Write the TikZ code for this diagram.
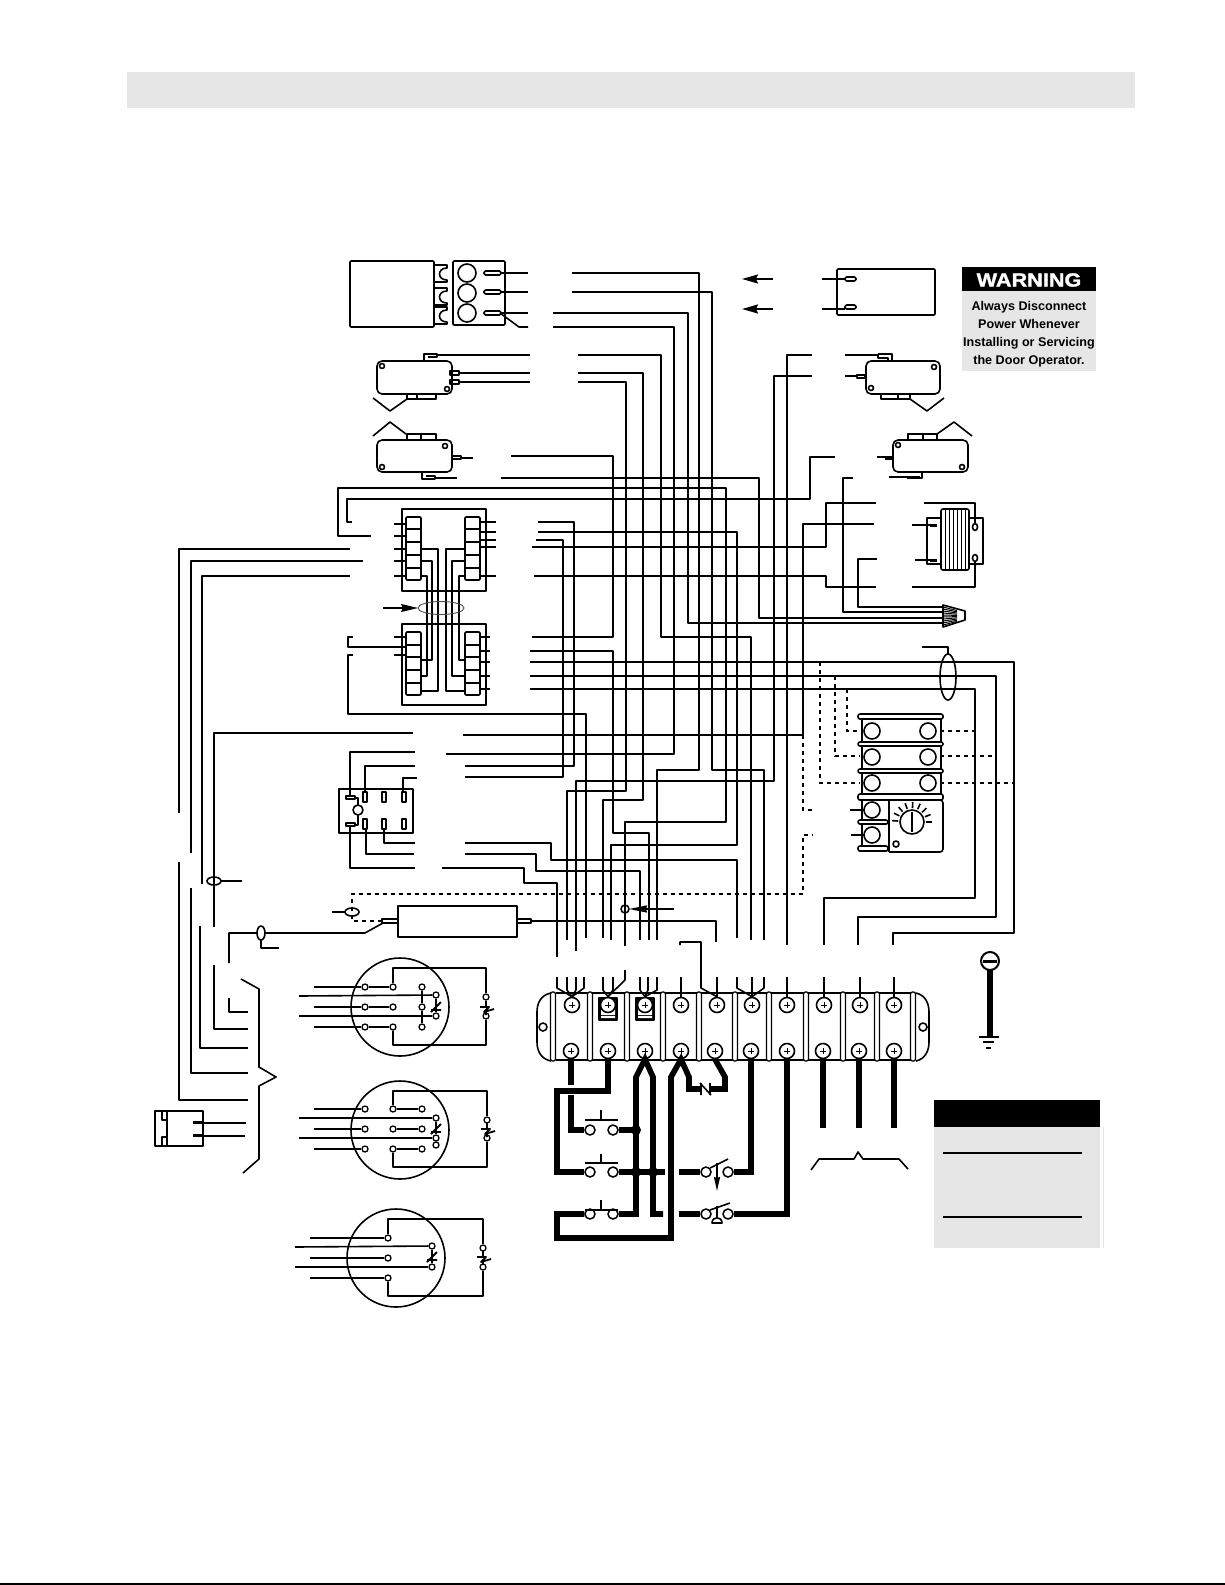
\documentclass[tikz,border=0pt]{standalone}
\usepackage{fontspec}
\setmainfont{Liberation Sans}
\newfontfamily\warnfont[FakeBold=1.6]{Liberation Sans Bold}
\usepackage{tikz}
\usetikzlibrary{arrows.meta}
\definecolor{panelgray}{HTML}{E6E6E6}
\tikzset{
	wire/.style={line width=1.6pt,line join=round},
	thickwire/.style={line width=5.6pt,line join=miter},
	dashwire/.style={line width=1.5pt,dash pattern=on 4pt off 4pt},
	term/.style={circle,draw,fill=white,line width=1.3pt,inner sep=0pt,minimum size=6pt},
	push/.style={circle,draw,fill=white,line width=1.5pt,inner sep=0pt,minimum size=10pt},
	dotjoin/.style={circle,fill=black,inner sep=0pt,minimum size=10pt},
	screw/.style={circle,draw,fill=white,line width=1.6pt,inner sep=0pt,minimum size=15pt,
		path picture={\draw[line width=.8pt] (path picture bounding box.center) ++(-3,0) -- ++(6,0) ++(-3,-3) -- ++(0,6);}},
	tiparrow/.style={-{Stealth[length=16pt,width=9pt,inset=2pt]}}
}
\newcommand{\zigheater}[2]{\draw[wire,line width=1.8pt,shift={(#1,#2)}] (0,-6) -- (0,-1) (-6,0) -- (3,0) -- (-2,5) -- (8,2) (0,4) -- (0,8);}
\newcommand{\zigcontact}[2]{\draw[wire,line width=1.8pt,shift={(#1,#2)}] (-5,4) -- (5,4) (-5,6) -- (5,-4);}
\begin{document}
\begin{tikzpicture}[x=1pt,y=-1pt]
	\useasboundingbox (0,0) rectangle (1225,1585);
	\fill[panelgray] (127,72) rectangle (1135,108);
	\draw[line width=1.5pt] (0,1584) -- (1225,1584);

	\draw[wire,rounded corners=1pt] (350,261) rectangle (434,327);
	\foreach \cy in {265,288,307}
		\draw[wire] (434,\cy) -- (447,\cy) -- (447,\cy+3) .. controls (437,\cy+3) and (437,\cy+15) .. (447,\cy+15) -- (447,\cy+17) -- (434,\cy+17);
	\draw[wire,rounded corners=1pt] (453,261) rectangle (505,325);
	\foreach \cy in {273,293,313}
		\draw[wire] (467,\cy) circle (9);
	\foreach \cy in {273,292,313}
		\draw[wire,rounded corners=1.5pt] (484,\cy-2) rectangle (501,\cy+2);
	\draw[wire] (501,273) -- (528,273);
	\draw[wire] (501,292) -- (528,292);
	\draw[wire] (501,313) -- (528,313);
	\draw[wire] (500,313) -- (519,327) -- (528,327);

	\draw[wire,rounded corners=5pt] (377,361) rectangle (452,394);
	\draw[wire] (382,366) circle (2.5) (447,389) circle (2.5);
	\draw[wire] (424,361) -- (424,354) -- (437,354) -- (437,357) -- (428,357);
	\draw[wire] (437,355) -- (530,355);
	\draw[wire] (450,371) rectangle (459,375) (450,380) rectangle (459,384);
	\draw[wire] (459,373) -- (530,373);
	\draw[wire] (459,382) -- (530,382);
	\draw[wire] (407,394) -- (407,399) -- (436,399) -- (436,394) (417,394) -- (417,399);
	\draw[wire] (373,398) -- (390,411) -- (407,399);

	\draw[wire,rounded corners=5pt] (377,440) rectangle (452,472);
	\draw[wire] (445,446) circle (2.5) (382,467) circle (2.5);
	\draw[wire] (407,440) -- (407,434) -- (436,434) -- (436,440) (421,434) -- (421,440);
	\draw[wire] (373,436) -- (390,422) -- (406,434);
	\draw[wire] (452,456) rectangle (461,459);
	\draw[wire] (461,458) -- (473,458);
	\draw[wire] (422,472) -- (422,479) -- (435,479) -- (435,476) -- (426,476);
	\draw[wire] (435,478) -- (457,478);

	\draw[wire,rounded corners=1pt] (837,269) rectangle (935,315);
	\draw[wire,rounded corners=1.5pt] (845,277) rectangle (856,281) (845,305) rectangle (856,309);
	\draw[wire] (822,279) -- (845,279);
	\draw[wire] (822,309) -- (845,309);
	\draw[wire,tiparrow] (773,279) -- (742,279);
	\draw[wire,tiparrow] (773,309) -- (742,309);

	\fill[panelgray] (962,291) rectangle (1096,371);
	\fill[black] (962,267) rectangle (1096,291);
	\node (warnhead) [text=white,xscale=1.14,font=\warnfont\fontsize{19}{19}\selectfont] at (1029,280) {WARNING};
	\node (warntext) [align=center,inner sep=0pt,font=\bfseries\fontsize{12.6}{18}\selectfont] at (1029,334) {Always Disconnect\\Power Whenever\\Installing or Servicing\\the Door Operator.};

	\draw[wire,rounded corners=5pt] (866,361) rectangle (940,394);
	\draw[wire] (934,367) circle (2.5) (871,388) circle (2.5);
	\draw[wire] (878,354) -- (892,354) -- (892,361) (878,354) -- (878,358) -- (888,358) -- (888,361);
	\draw[wire] (845,355) -- (878,355);
	\draw[wire] (857,375) rectangle (865,378);
	\draw[wire] (845,376) -- (857,376);
	\draw[wire] (881,394) -- (881,399) -- (910,399) -- (910,394) (898,394) -- (898,399);
	\draw[wire] (910,399) -- (927,411) -- (944,398);

	\draw[wire,rounded corners=5pt] (893,440) rectangle (968,472);
	\draw[wire] (898,445) circle (2.5) (962,467) circle (2.5);
	\draw[wire] (908,440) -- (908,434) -- (937,434) -- (937,440) (923,434) -- (923,440);
	\draw[wire] (937,434) -- (954,422) -- (972,436);
	\draw[wire] (877,457) -- (893,457);
	\draw[line width=3pt] (885,458) -- (893,458);
	\draw[wire] (922,472) -- (922,478) -- (907,478);
	\draw[wire] (889,477) -- (920,477);
	\draw[line width=3pt] (907,477) -- (920,477);

	\draw[wire,rounded corners=2pt] (941,509) rectangle (969,570);
	\foreach \sx in {945,949,...,965}
		\draw[line width=.9pt] (\sx,509) -- (\sx,570);
	\draw[wire] (941,518) -- (927,518) -- (927,564) -- (941,564);
	\draw[wire] (969,518) -- (983,518) -- (983,564) -- (969,564);
	\draw[wire] (912,525) -- (930,525);
	\draw[wire] (915,560) -- (930,560);
	\draw[line width=3pt] (930,525) -- (937,525) (930,560) -- (937,560);
	\draw[wire] (975,527) ellipse (2.5 and 3.5) (975,558) ellipse (2.5 and 3.5);
	\draw[wire] (924,503) -- (975,503) -- (975,523);
	\draw[wire] (912,587) -- (975,587) -- (975,562);

	\draw[wire,fill=white] (943,605) -- (965,611) -- (965,620) -- (943,627) -- cycle;
	\foreach \ny in {607,609,...,625}
		\draw[line width=1pt] (943,\ny) -- (957,{616+(\ny-616)*.6});

	\draw[wire] (402,509) rectangle (486,591);
	\draw[wire] (402,624) rectangle (486,705);
	\foreach \bx in {406,465} {
		\draw[wire,rounded corners=1pt] (\bx,517) rectangle (\bx+15,580);
		\draw[wire,rounded corners=1pt] (\bx,632) rectangle (\bx+15,695);
		\foreach \dy in {529,542,555,568}
			\draw[wire] (\bx,\dy) -- (\bx+15,\dy);
		\foreach \dy in {645,657,670,683}
			\draw[wire] (\bx,\dy) -- (\bx+15,\dy);
	}
	\foreach \sy in {524,536,549,561,576,637,655}
		\draw[wire] (394,\sy) -- (406,\sy);
	\foreach \sy in {522,532,540,547,576}
		\draw[wire] (480,\sy) -- (496,\sy);
	\foreach \sy in {637,651,662,676,689}
		\draw[wire] (480,\sy) -- (490,\sy);
	\draw[wire] (421,549) -- (438,549) -- (438,691) -- (421,691);
	\draw[wire] (421,561) -- (432,561) -- (432,660) -- (421,660);
	\draw[wire] (421,576) -- (427,576) -- (427,676) -- (421,676);
	\draw[wire] (465,549) -- (446,549) -- (446,691) -- (465,691);
	\draw[wire] (465,561) -- (452,561) -- (452,676) -- (465,676);
	\draw[wire] (465,576) -- (459,576) -- (459,660) -- (465,660);
	\draw[black!70,line width=.9pt] (441,608) ellipse (23 and 6.5);
	\draw[wire,-{Stealth[length=17pt,width=8pt,inset=2pt]}] (383,608) -- (418,608);

	\draw[wire] (353,637) -- (348,637) -- (348,647) -- (406,647);
	\draw[wire] (353,655) -- (348,655) -- (348,714) -- (586,714) -- (586,938);
	\draw[wire] (371,536) -- (338,536) -- (338,488) -- (726,488) -- (726,822) -- (625,822) -- (625,946);
	\draw[wire] (352,522) -- (347,522) -- (347,499) -- (810,499) -- (810,457) -- (835,457);

	\draw[wire] (350,549) -- (179,549) -- (179,813);
	\draw[wire] (179,862) -- (179,1100) -- (248,1100);
	\draw[wire] (363,561) -- (191,561) -- (191,853);
	\draw[wire] (191,888) -- (191,1073) -- (248,1073);
	\draw[wire] (350,576) -- (202,576) -- (202,884);
	\draw[wire] (200,926) -- (200,1048) -- (248,1048);
	\draw[wire] (413,733) -- (214,733) -- (214,927);
	\draw[wire] (214,965) -- (214,1029) -- (248,1029);
	\draw[wire] (229,998) -- (229,1012) -- (248,1012);
	\draw[wire,fill=white] (214,881) ellipse (7 and 4);
	\draw[wire] (214,877) -- (214,885);
	\draw[wire] (221,881) -- (242,881);
	\draw[wire] (229,963) -- (229,933) -- (365,933) -- (383,923);
	\draw[wire,fill=white] (261,933) ellipse (4 and 7);
	\draw[wire] (261,940) -- (261,948) -- (279,948);

	\draw[dashwire] (382,921) -- (352,921) -- (352,894) -- (803,894) -- (803,835) -- (813,835);
	\draw[wire] (352,912) ellipse (7 and 4);
	\draw[wire] (332,912) -- (345,912);
	\draw[wire] (398,906) rectangle (517,937);
	\draw[wire] (382,919) rectangle (398,923);
	\draw[wire] (517,919) rectangle (531,923);
	\draw[wire] (531,921) -- (716,921) -- (716,942);

	\draw[wire,line width=1.3pt] (339,789) rectangle (413,833);
	\draw[wire,line width=1.3pt] (346,796) rectangle (355,799) (346,823) rectangle (355,826);
	\foreach \rx in {363,382,402} {
		\draw[wire,line width=1.3pt] (\rx,792) rectangle (\rx+4,802);
		\draw[wire,line width=1.3pt] (\rx,819) rectangle (\rx+4,829);
	}
	\draw[wire] (355,798) -- (358,798) -- (358,805) (358,815) -- (358,825) -- (355,825);
	\draw[wire] (358,810) circle (5);
	\draw[wire] (350,796) -- (350,752) -- (415,752);
	\draw[wire] (365,792) -- (365,766) -- (415,766);
	\draw[wire] (403,792) -- (403,778) -- (417,778);
	\draw[wire] (350,826) -- (350,868) -- (415,868);
	\draw[wire] (366,829) -- (366,854) -- (414,854);
	\draw[wire] (384,829) -- (384,843) -- (415,843);

	\draw[wire] (572,273) -- (699,273) -- (699,770) -- (657,770) -- (657,940);
	\draw[wire] (572,292) -- (712,292) -- (712,770) -- (764,770) -- (764,940);
	\draw[wire] (553,313) -- (688,313) -- (688,623) -- (943,623);
	\draw[wire] (553,327) -- (674,327) -- (674,754) -- (446,754);
	\draw[wire] (578,355) -- (661,355) -- (661,637) -- (751,637) -- (751,940);
	\draw[wire] (578,373) -- (643,373) -- (643,800) -- (603,800) -- (603,938);
	\draw[wire] (578,382) -- (626,382) -- (626,791) -- (567,791) -- (567,940);
	\draw[wire] (511,456) -- (613,456) -- (613,637) -- (532,637);
	\draw[wire] (501,478) -- (759,478) -- (759,618) -- (943,618);
	\draw[wire] (812,355) -- (787,355) -- (787,945);
	\draw[wire] (812,376) -- (774,376) -- (774,781) -- (576,781) -- (576,951);
	\draw[wire] (538,532) -- (737,532) -- (737,845) -- (611,845) -- (611,940);
	\draw[wire] (532,547) -- (826,547) -- (826,503) -- (876,503);
	\draw[wire] (534,576) -- (826,576) -- (826,587) -- (876,587);
	\draw[wire] (874,524) -- (803,524) -- (803,735) -- (463,735);
	\draw[wire] (853,478) -- (843,478) -- (843,612) -- (943,612);
	\draw[wire] (877,559) -- (858,559) -- (858,607) -- (943,607);
	\draw[wire] (538,522) -- (574,522) -- (574,766) -- (465,766);
	\draw[wire] (536,540) -- (563,540) -- (563,777) -- (465,777);
	\draw[wire] (530,651) -- (613,651) -- (613,833) -- (649,833) -- (649,940);
	\draw[wire] (530,662) -- (1014,662) -- (1014,933) -- (893,933) -- (893,945);
	\draw[wire] (530,676) -- (996,676) -- (996,917) -- (858,917) -- (858,945);
	\draw[wire] (530,689) -- (975,689) -- (975,898) -- (824,898) -- (824,945);
	\draw[wire] (465,843) -- (551,843) -- (551,860) -- (737,860) -- (737,938);
	\draw[wire] (465,854) -- (536,854) -- (536,871) -- (640,871) -- (640,940);
	\draw[wire] (442,868) -- (524,868) -- (524,883) -- (557,883) -- (557,957);

	\draw[dashwire] (820,662) -- (820,783) -- (860,783);
	\draw[dashwire] (835,676) -- (835,756) -- (860,756);
	\draw[dashwire] (847,689) -- (847,731) -- (862,731);
	\draw[dashwire] (940,783) -- (1014,783);
	\draw[dashwire] (940,756) -- (996,756);
	\draw[dashwire] (940,731) -- (975,731);
	\draw[dashwire] (803,735) -- (803,810) -- (812,810);

	\draw[wire] (948,677) ellipse (8 and 23);
	\draw[wire] (922,647) -- (948,647) -- (948,654);
	\draw[wire] (625,909) circle (4);
	\draw[wire,-{Stealth[length=18pt,width=7pt,inset=1pt]}] (674,909) -- (629,909);

	\draw[wire] (862,716) -- (862,848) (941,716) -- (941,797);
	\foreach \by/\bh in {714/5,742/4,769/4,794/6}
		\draw[wire,rounded corners=2pt,fill=white] (858,\by) rectangle (943,\by+\bh);
	\draw[wire,rounded corners=2pt,fill=white] (858,820) rectangle (888,824);
	\draw[wire,rounded corners=2pt,fill=white] (858,846) rectangle (888,851);
	\draw[wire,rounded corners=3pt] (889,800) -- (943,800) -- (943,852) -- (889,852);
	\draw[wire] (889,800) -- (889,852);
	\foreach \tx/\ty in {872/731,928/731,872/757,928/757,872/783,928/783,872/810,872/835}
		\draw[wire] (\tx,\ty) circle (8);
	\draw[wire] (850,810) -- (864,810);
	\draw[wire] (851,835) -- (864,835);
	\draw[wire] (912,822) circle (12);
	\draw[wire] (912,812) -- (912,832);
	\foreach \ang in {0,-22,...,-180}
		\draw[wire] (912,822) ++(\ang:14) -- ++(\ang:6);
	\draw[wire] (896,844) circle (3);

	\draw[wire] (551,993) .. controls (541,995) and (537,1003) .. (537,1012) -- (537,1042) .. controls (537,1051) and (541,1059) .. (551,1061);
	\draw[wire] (916,993) .. controls (925,995) and (929,1003) .. (929,1012) -- (929,1042) .. controls (929,1051) and (925,1059) .. (916,1061);
	\draw[wire] (556,993) -- (911,993);
	\draw[wire] (556,1060) -- (911,1060);
	\foreach \px in {553,590,627,663,699,735,769,806,843,877,913}
		\draw[line width=1.3pt,rounded corners=2pt,fill=white] (\px-2.5,992) rectangle (\px+2.5,1061);
	\draw[wire] (543,1027) circle (4) (923,1027) circle (4);
	\draw[wire,fill=black] (599,998) rectangle (617,1020);
	\draw[wire,fill=black] (636,998) rectangle (654,1020);
	\fill[white] (601,1000) rectangle (615,1015) (601,1016) rectangle (615,1018);
	\fill[white] (638,1000) rectangle (652,1015) (638,1016) rectangle (652,1018);
	\foreach \i/\tx/\bx in {1/572/571,2/608/608,3/645/645,4/681/681,5/717/715,6/752/751,7/787/787,8/824/823,9/860/859,10/894/894} {
		\node[screw] (t\i) at (\tx,1005) {};
		\node[screw] (b\i) at (\bx,1051) {};
	}

	\draw[wire] (557,977) -- (557,988) -- (t1.north);
	\draw[wire] (567,977) -- (567,990) -- (t1.north);
	\draw[wire] (576,977) -- (576,990) -- (t1.north);
	\draw[wire] (584,977) -- (584,988) -- (t1.north);
	\draw[wire] (603,977) -- (603,990) -- (t2.north);
	\draw[wire] (613,977) -- (613,990) -- (t2.north);
	\draw[wire] (625,970) -- (625,980) -- (t2.north);
	\draw[wire] (640,977) -- (640,990) -- (t3.north);
	\draw[wire] (648,977) -- (648,990) -- (t3.north);
	\draw[wire] (657,977) -- (657,990) -- (t3.north);
	\draw[wire] (681,977) -- (t4.north);
	\draw[wire] (680,945) -- (680,942) -- (701,942) -- (701,988) -- (t5.north);
	\draw[wire] (717,977) -- (t5.north);
	\draw[wire] (737,977) -- (737,988) -- (t6.north);
	\draw[wire] (752,977) -- (t6.north);
	\draw[wire] (764,977) -- (764,988) -- (t6.north);
	\draw[wire] (787,977) -- (t7.north);
	\draw[wire] (824,977) -- (t8.north);
	\draw[wire] (860,977) -- (t9.north);
	\draw[wire] (894,977) -- (t10.north);

	\node[push] (pa) at (590,1130) {};
	\node[push] (pb) at (613,1130) {};
	\node[push] (pc) at (590,1172) {};
	\node[push] (pd) at (613,1172) {};
	\node[push] (pe) at (590,1214) {};
	\node[push] (pf) at (613,1214) {};
	\node[push] (sa) at (706,1172) {};
	\node[push] (sb) at (728,1172) {};
	\node[push] (sc) at (706,1214) {};
	\node[push] (sd) at (728,1214) {};

	\draw[wire] (585,1120) -- (618,1120) (601,1110) -- (601,1120);
	\draw[wire] (585,1163) -- (618,1163) (601,1154) -- (601,1163);
	\draw[wire] (585,1210) -- (618,1210) (601,1200) -- (601,1210);

	\draw[thickwire] (b1.south) -- (571,1085);
	\draw[thickwire] (b2.south) -- (608,1091) -- (557,1091) -- (557,1172) -- (pc);
	\draw[thickwire] (571,1095) -- (571,1130) -- (pa);
	\draw[thickwire] (pb) -- (636,1130);
	\draw[thickwire] (pd) -- (665,1172);
	\draw[thickwire] (pf) -- (636,1214) -- (636,1077) -- (b3.south) -- (653,1077) -- (653,1214) -- (663,1214);
	\draw[thickwire] (pe) -- (557,1214) -- (557,1238) -- (671,1238) -- (671,1077) -- (b4.south) -- (689,1077) -- (689,1089) -- (700,1089);
	\draw[thickwire] (710,1089) -- (725,1089) -- (725,1077) -- (b5.south);
	\draw[wire] (701,1083) -- (701,1095) (710,1083) -- (710,1095) (700,1083) -- (711,1095);
	\draw[thickwire] (679,1172) -- (sa);
	\draw[thickwire] (sb) -- (751,1172) -- (b6.south);
	\draw[thickwire] (679,1214) -- (sc);
	\draw[thickwire] (sd) -- (787,1214) -- (b7.south);
	\draw[thickwire] (b8.south) -- (823,1128);
	\draw[thickwire] (b9.south) -- (859,1128);
	\draw[thickwire] (b10.south) -- (894,1128);
	\node[dotjoin] (ja) at (636,1130) {};
	\node[dotjoin] (jb) at (636,1172) {};
	\node[dotjoin] (jc) at (653,1172) {};
	\draw[wire] (710,1168) -- (728,1159);
	\draw[wire,-{Stealth[length=14pt,width=6pt,inset=1pt]}] (717,1163) -- (717,1191);
	\draw[wire] (710,1210) -- (730,1203);
	\draw[wire] (717,1206) -- (717,1218);
	\draw[wire] (712,1223) .. controls (712,1216) and (722,1216) .. (722,1223) -- cycle;
	\draw[wire] (811,1170) -- (819,1159) -- (854,1159) -- (858,1152) -- (863,1159) -- (899,1159) -- (908,1169);

	\draw[wire] (241,979) -- (259,989) -- (259,1067) -- (276,1077) -- (259,1086) -- (259,1159) -- (243,1173);
	\draw[wire] (167,1111) rectangle (203,1146);
	\draw[wire] (167,1111) -- (155,1111) -- (155,1146) -- (167,1146);
	\draw[wire] (162,1111) -- (162,1120) -- (167,1120) (162,1146) -- (162,1137) -- (167,1137);
	\draw[line width=3pt] (193,1122) -- (202,1122) (193,1135) -- (202,1135);
	\draw[wire] (202,1123) -- (246,1123);
	\draw[wire] (202,1136) -- (245,1136);

	\draw[wire] (400,1007) circle (49);
	\draw[wire] (400,1130) circle (49);
	\draw[wire] (396,1258) circle (49);
	\foreach \tname/\tx/\ty in {a1/365/987,a2/393/987,a3/422/987,a4/436/995,a5/365/1007,a6/393/1007,a7/422/1007,a8/436/1016,a9/365/1027,a10/393/1027,a11/422/1027,a12/486/997,a13/486/1016,
		c1/365/1109,c2/393/1109,c3/422/1109,c4/436/1118,c5/365/1129,c6/393/1129,c7/422/1129,c8/436/1138,c9/436/1145,c10/365/1149,c11/393/1149,c12/422/1149,c13/487/1120,c14/487/1138,
		e1/388/1238,e2/432/1246,e3/388/1258,e4/432/1267,e5/388/1278,e6/483/1248,e7/483/1267}
		\node[term] (\tname) at (\tx,\ty) {};
	\draw[wire] (314,987) -- (a1) -- (a2);
	\draw[wire] (299,996) -- (a4);
	\draw[wire] (314,1007) -- (a5) -- (a6);
	\draw[wire] (299,1016) -- (a8);
	\draw[wire] (314,1027) -- (a9) -- (a10);
	\draw[wire] (a3) -- (a7) -- (a11);
	\draw[wire] (a2) -- (393,968) -- (486,968) -- (a12);
	\draw[wire] (a10) -- (393,1045) -- (486,1045) -- (a13);
	\draw[wire] (a4) -- (a8);
	\zigcontact{436}{1006}
	\zigheater{486}{1007}
	\draw[wire] (314,1109) -- (c1);
	\draw[wire] (299,1118) -- (c4);
	\draw[wire] (314,1129) -- (c5);
	\draw[wire] (299,1138) -- (c8);
	\draw[wire] (314,1149) -- (c10);
	\draw[wire] (c2) -- (c3);
	\draw[wire] (c6) -- (c7);
	\draw[wire] (c11) -- (c12);
	\draw[wire] (c2) -- (393,1091) -- (487,1091) -- (c13);
	\draw[wire] (c11) -- (393,1167) -- (487,1167) -- (c14);
	\draw[wire] (c4) -- (c8);
	\zigcontact{436}{1128}
	\zigheater{487}{1129}
	\draw[wire] (310,1238) -- (e1);
	\draw[wire] (295,1247) -- (e2);
	\draw[wire] (310,1258) -- (e3);
	\draw[wire] (295,1267) -- (e4);
	\draw[wire] (310,1278) -- (e5);
	\draw[wire] (e1) -- (388,1219) -- (483,1219) -- (e6);
	\draw[wire] (e5) -- (388,1296) -- (483,1296) -- (e7);
	\draw[wire] (e2) -- (e4);
	\zigcontact{432}{1256}
	\zigheater{483}{1257}

	\draw[line width=2pt] (990,961) circle (9);
	\draw[line width=3pt] (983,961) -- (997,961);
	\draw[line width=6pt] (990,970) -- (990,1037);
	\draw[line width=2pt] (979,1037) -- (999,1037);
	\draw[line width=2pt] (983,1042) -- (994,1042);
	\draw[line width=2pt] (986,1048) -- (991,1048);

	\fill[panelgray] (934,1127) rectangle (1100,1248);
	\fill[black] (934,1100) rectangle (1100,1127);
	\draw[line width=.8pt,panelgray] (1103,1127) -- (1103,1248);
	\draw[line width=1.5pt] (943,1153) -- (1082,1153);
	\draw[line width=1.2pt] (943,1217) -- (1082,1217);
\end{tikzpicture}
\end{document}
